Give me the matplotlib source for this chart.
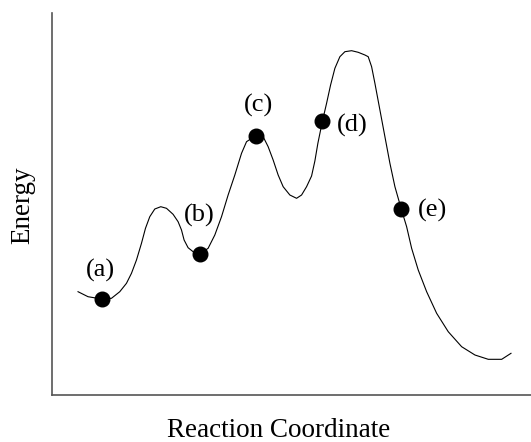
import matplotlib.pyplot as plt

# ====================================
# Data (arbitrary units)
# ====================================

reaction_coord = [26.3, 36.3, 50, 59.7, 68, 74.7, 79.7, 84.7, 89.7, 93.7, 98,
                  103, 109, 114.7, 121.3, 126.3, 129.7, 132.3, 136.3, 141.3, 148,
                  156.3, 163, 169.7, 176.3, 183, 189.7, 194.7, 204, 211.3, 216.3,
                  221.3, 226.3, 231.3, 238, 244.7, 249.7, 254.7, 259.7, 263, 266,
                  270.5, 274.7, 278.7, 283, 288, 293, 299.7, 306.3, 313, 316.3,
                  319.7, 323, 328, 333, 338, 343, 349.2,
                  354.7, 359.7, 366.3, 374.7, 384.7, 396.3, 409.7, 423, 436.3,
                  449.7, 459]
energy = [103.3, 98.3, 96, 96.7, 103.3, 111.7, 121.7, 135, 151.7, 166.7, 178.3,
          186, 188.3, 186.7, 180.7, 173.3, 165, 155, 147.3, 143.3, 141,
          146.7, 160, 178.3, 200, 220, 241.7, 253.3, 259.5, 258.3, 248.3,
          235, 220, 208.3, 200, 196.7, 200, 208.3, 219, 234, 251.7,
          273.7, 291.7, 310, 326.7, 338.3, 343.3, 344.3, 342.7, 340, 338.3,
          328.3, 311.7, 285, 258.3, 231.7, 208.3, 186.5,
          168.3, 146.7, 125, 103.3, 81.7, 63.3, 48.3, 40, 35.7, 35.7, 41.7]

point_labels = ["(a)", "(b)", "(c)", "(d)", "(e)"]
point_x = [50, 148, 204, 270.5, 349.2]
point_y = [96, 141, 259.5, 273.7, 186.5]

# label offsets from each point (data units)
label_dx = [-1, -0.7, 2.3, 30.2, 31.5]
label_dy = [29, 39, 30.5, -3.7, -1.5]

# ====================================
# Plot
# ====================================

plt.rcParams["font.family"] = ["Liberation Serif", "DejaVu Serif"]

fig = plt.figure(figsize=(5.31, 4.42), dpi=100)
ax = fig.add_axes([0.0974, 0.1063, 0.9026, 0.8643])

ax.plot(reaction_coord, energy, color="black", linewidth=0.8,
        solid_joinstyle="round")
ax.plot(point_x, point_y, "o", color="black", markersize=10.5)

for lab, x, y, dx, dy in zip(point_labels, point_x, point_y, label_dx, label_dy):
    ax.text(x + dx, y + dy, lab, fontsize=19, ha="center", va="center")

ax.set_xlim(0, 479)
ax.set_ylim(0, 382)
ax.set_xticks([])
ax.set_yticks([])

for side in ["top", "right"]:
    ax.spines[side].set_visible(False)
for side in ["left", "bottom"]:
    ax.spines[side].set_color("#555555")
    ax.spines[side].set_linewidth(1.2)

fig.text(0.524, 0.025, "Reaction Coordinate", fontsize=19.5,
         ha="center", va="center")
fig.text(0.042, 0.535, "Energy", fontsize=19.5, rotation=90,
         ha="center", va="center")

fig.savefig("out.png", dpi=100)
